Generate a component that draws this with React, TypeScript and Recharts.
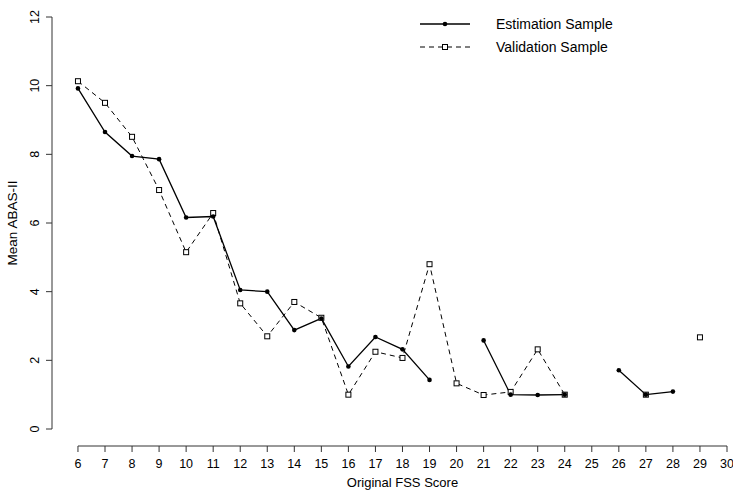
import { LineChart, Line, XAxis, YAxis, ReferenceLine, Legend } from 'recharts';

const scores = [6, 7, 8, 9, 10, 11, 12, 13, 14, 15, 16, 17, 18, 19, 20, 21, 22, 23, 24, 25, 26, 27, 28, 29, 30];
const estimation = [9.92, 8.65, 7.95, 7.86, 6.16, 6.19, 4.05, 4.0, 2.88, 3.22, 1.82, 2.68, 2.32, 1.43, null, 2.58, 1.0, 0.99, 1.0, null, 1.71, 1.0, 1.09, null, null];
const validation = [10.13, 9.5, 8.51, 6.96, 5.15, 6.29, 3.66, 2.7, 3.7, 3.24, 1.0, 2.25, 2.07, 4.8, 1.33, 0.99, 1.08, 2.32, 1.0, null, null, 1.0, null, 2.67, null];
const yTicks = [0, 2, 4, 6, 8, 10, 12];

const X_MIN = 5.04;
const Y_MIN = -0.495;

const data = scores.map((s, i) => ({ score: s, est: estimation[i], val: validation[i] }));

const EstDot = (p: any) => {
  if (p.cy == null || p.value == null) return <g key={p.key} />;
  return <circle key={p.key} cx={p.cx} cy={p.cy} r={2.3} fill="#000" />;
};

const ValDot = (p: any) => {
  if (p.cy == null || p.value == null) return <g key={p.key} />;
  return <rect key={p.key} x={p.cx - 2.5} y={p.cy - 2.5} width={5} height={5} fill="#fff" stroke="#000" strokeWidth={1} />;
};

const YTick = ({ x, y, payload }: any) => (
  <text x={x} y={y} transform={`rotate(-90, ${x}, ${y})`} textAnchor="middle" fontSize={12.5} fill="#000">
    {payload.value}
  </text>
);

const LegendBox = () => (
  <svg width={230} height={50}>
    <line x1={5} x2={55} y1={12} y2={12} stroke="#000" strokeWidth={1.3} />
    <circle cx={30} cy={12} r={2.3} fill="#000" />
    <text x={81} y={17} fontSize={14} fill="#000">Estimation Sample</text>
    <line x1={5} x2={55} y1={35} y2={35} stroke="#000" strokeWidth={1} strokeDasharray="5 4" />
    <rect x={27.5} y={32.5} width={5} height={5} fill="#fff" stroke="#000" />
    <text x={81} y={40} fontSize={14} fill="#000">Validation Sample</text>
  </svg>
);

export default function App() {
  return (
    <div style={{ position: 'absolute', left: 0, top: 0, fontFamily: '"Liberation Sans", Arial, sans-serif', background: '#fff' }}>
      <LineChart width={733} height={491} data={data} margin={{ top: 17, right: 6, bottom: 0, left: 0 }}>
        <XAxis
          dataKey="score"
          type="number"
          domain={[X_MIN, 30]}
          ticks={scores}
          interval={0}
          allowDataOverflow
          axisLine={false}
          tickLine={{ stroke: '#333' }}
          tickSize={6}
          tickMargin={7}
          height={45}
          tick={{ fontSize: 12.5, fill: '#000' }}
          label={{
            value: 'Original FSS Score',
            content: ({ viewBox }: any) => (
              <text
                x={viewBox.x + (viewBox.width * (18 - X_MIN)) / (30 - X_MIN)}
                y={viewBox.y + 41}
                textAnchor="middle"
                fontSize={13}
                fill="#000"
              >
                Original FSS Score
              </text>
            ),
          }}
        />
        <YAxis
          type="number"
          domain={[Y_MIN, 12]}
          ticks={yTicks}
          interval={0}
          allowDataOverflow
          width={52}
          axisLine={false}
          tickLine={{ stroke: '#333' }}
          tickSize={6}
          tickMargin={7}
          tick={<YTick />}
          label={{
            value: 'Mean ABAS-II',
            content: () => (
              <text x={17} y={223} transform="rotate(-90, 17, 223)" textAnchor="middle" fontSize={13.5} fill="#000">
                Mean ABAS-II
              </text>
            ),
          }}
        />
        <ReferenceLine segment={[{ x: 6, y: Y_MIN }, { x: 30, y: Y_MIN }]} stroke="#333" ifOverflow="visible" />
        <ReferenceLine segment={[{ x: X_MIN, y: 0 }, { x: X_MIN, y: 12 }]} stroke="#333" ifOverflow="visible" />
        <Legend
          layout="horizontal"
          verticalAlign="middle"
          align="center"
          content={() => <LegendBox />}
          wrapperStyle={{ top: 12, left: 415, width: 230 }}
        />
        <Line
          dataKey="val"
          stroke="#000"
          strokeWidth={1}
          strokeDasharray="5 4"
          dot={ValDot}
          activeDot={false}
          connectNulls={false}
          isAnimationActive={false}
        />
        <Line
          dataKey="est"
          stroke="#000"
          strokeWidth={1.3}
          dot={EstDot}
          activeDot={false}
          connectNulls={false}
          isAnimationActive={false}
        />
      </LineChart>
    </div>
  );
}
